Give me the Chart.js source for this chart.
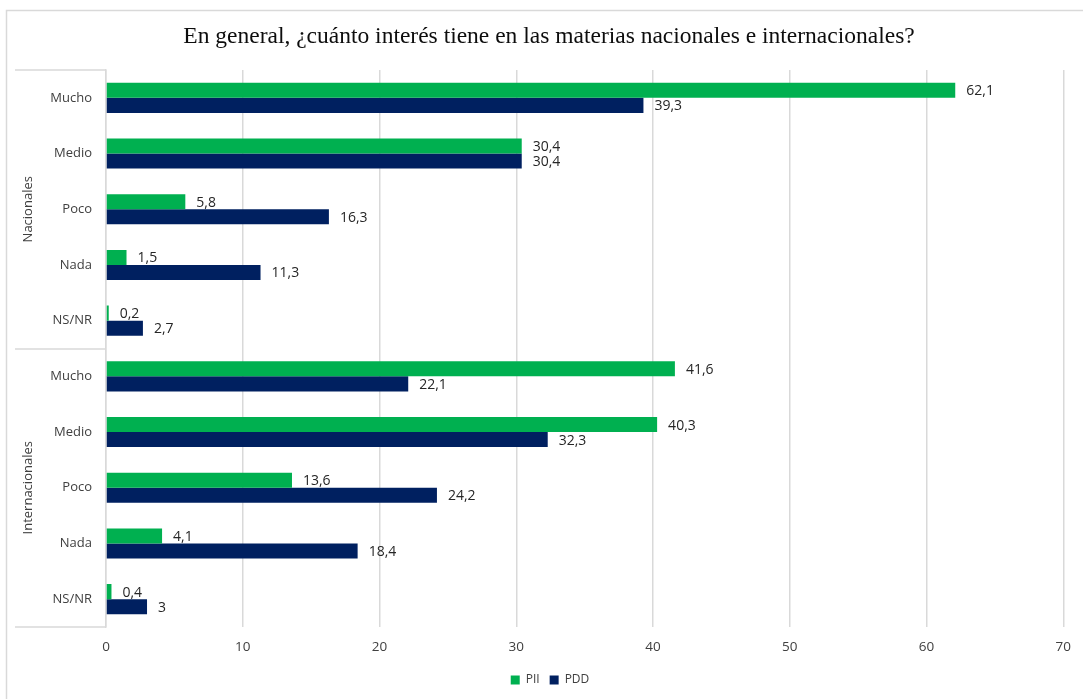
<!DOCTYPE html>
<html lang="es">
<head>
<meta charset="utf-8">
<title>Interés en materias nacionales e internacionales</title>
<script src="https://cdn.jsdelivr.net/npm/chart.js@4.4.1/dist/chart.umd.min.js"></script>
<style>
  html, body { margin: 0; padding: 0; background: #ffffff; }
  #wrap { position: relative; width: 1083px; height: 699px; }
</style>
</head>
<body>
<div id="wrap"><canvas id="chart" width="1083" height="699"></canvas></div>
<script>
// Interest levels, repeated for each group (Nacionales, Internacionales)
const categories = ['Mucho', 'Medio', 'Poco', 'Nada', 'NS/NR', 'Mucho', 'Medio', 'Poco', 'Nada', 'NS/NR'];
const groups = ['Nacionales', 'Internacionales'];
const groupSize = 5;

// Percentages per series
const pii = [62.1, 30.4, 5.8, 1.5, 0.2, 41.6, 40.3, 13.6, 4.1, 0.4];
const pdd = [39.3, 30.4, 16.3, 11.3, 2.7, 22.1, 32.3, 24.2, 18.4, 3];

const seriesNames = ['PII', 'PDD'];
const xMin = 0, xMax = 70, xStep = 10;

const chartTitle = 'En general, ¿cuánto interés tiene en las materias nacionales e internacionales?';

const GREEN = '#00B050';
const NAVY = '#002060';
const GRID = '#D9D9D9';
const TEXT = '#404040';
const LABEL = '#262626';
const SANS = '"Open Sans", "Liberation Sans", sans-serif';

const fmt = v => String(v).replace('.', ',');

// White background, outer frame and title
const framePlugin = {
  id: 'frame',
  beforeDraw(chart) {
    const ctx = chart.ctx;
    ctx.save();
    ctx.fillStyle = '#ffffff';
    ctx.fillRect(0, 0, chart.width, chart.height);
    ctx.strokeStyle = GRID;
    ctx.lineWidth = 1.5;
    ctx.strokeRect(6.5, 10.5, chart.width + 40, chart.height + 40);
    ctx.fillStyle = '#0d0d0d';
    ctx.font = '23.5px "Liberation Serif", "Times New Roman", serif';
    ctx.textAlign = 'center';
    ctx.textBaseline = 'middle';
    ctx.fillText(chartTitle, 549, 37);
    ctx.restore();
  }
};

// Group brackets and rotated group names on the category axis
const groupAxisPlugin = {
  id: 'groupAxis',
  afterDraw(chart) {
    const ctx = chart.ctx;
    const area = chart.chartArea;
    const y = chart.scales.y;
    const step = (area.bottom - area.top) / categories.length;
    const x0 = 15;
    ctx.save();
    ctx.strokeStyle = GRID;
    ctx.lineWidth = 1.5;
    const lines = [area.top];
    for (let g = 1; g <= groups.length; g++) {
      lines.push(area.top + step * groupSize * g);
    }
    lines.forEach(ly => {
      const yy = Math.round(ly);
      ctx.beginPath();
      ctx.moveTo(x0, yy);
      ctx.lineTo(area.left, yy);
      ctx.stroke();
    });
    ctx.fillStyle = TEXT;
    ctx.font = '13px ' + SANS;
    ctx.textAlign = 'center';
    ctx.textBaseline = 'middle';
    groups.forEach((name, g) => {
      const first = y.getPixelForValue(g * groupSize);
      const last = y.getPixelForValue(g * groupSize + groupSize - 1);
      const cy = (first + last) / 2;
      ctx.save();
      ctx.translate(28, cy);
      ctx.rotate(-Math.PI / 2);
      ctx.fillText(name, 0, 0);
      ctx.restore();
    });
    ctx.restore();
  }
};

// Value labels just past the end of each bar
const valueLabelPlugin = {
  id: 'valueLabels',
  afterDatasetsDraw(chart) {
    const ctx = chart.ctx;
    ctx.save();
    ctx.fillStyle = LABEL;
    ctx.font = '14px ' + SANS;
    ctx.textAlign = 'left';
    ctx.textBaseline = 'middle';
    chart.data.datasets.forEach((ds, di) => {
      const meta = chart.getDatasetMeta(di);
      meta.data.forEach((bar, i) => {
        ctx.fillText(fmt(ds.data[i]), bar.x + 11, bar.y + 1);
      });
    });
    ctx.restore();
  }
};

new Chart(document.getElementById('chart'), {
  type: 'bar',
  data: {
    labels: categories,
    datasets: [
      { label: seriesNames[0], data: pii, backgroundColor: GREEN },
      { label: seriesNames[1], data: pdd, backgroundColor: NAVY }
    ]
  },
  options: {
    indexAxis: 'y',
    responsive: false,
    animation: false,
    devicePixelRatio: 1,
    categoryPercentage: 0.54,
    barPercentage: 1,
    layout: { padding: { top: 70, left: 35, right: 18, bottom: 3 } },
    scales: {
      x: {
        min: xMin,
        max: xMax,
        ticks: { stepSize: xStep, padding: 12, color: TEXT, font: { family: SANS, size: 13.5 } },
        grid: { color: GRID, lineWidth: 1.5, drawTicks: false },
        border: { display: false },
        afterFit(scale) { scale.height = 37; }
      },
      y: {
        ticks: { padding: 14, color: TEXT, font: { family: SANS, size: 13 }, autoSkip: false },
        grid: { display: false, drawTicks: false },
        border: { display: true, color: GRID, width: 1.5 },
        afterFit(scale) { scale.width = 71; }
      }
    },
    plugins: {
      title: { display: false },
      tooltip: { enabled: false },
      legend: {
        position: 'bottom',
        labels: {
          boxWidth: 9,
          boxHeight: 9,
          padding: 10,
          color: TEXT,
          font: { family: SANS, size: 12 }
        }
      }
    }
  },
  plugins: [framePlugin, groupAxisPlugin, valueLabelPlugin]
});
</script>
</body>
</html>
